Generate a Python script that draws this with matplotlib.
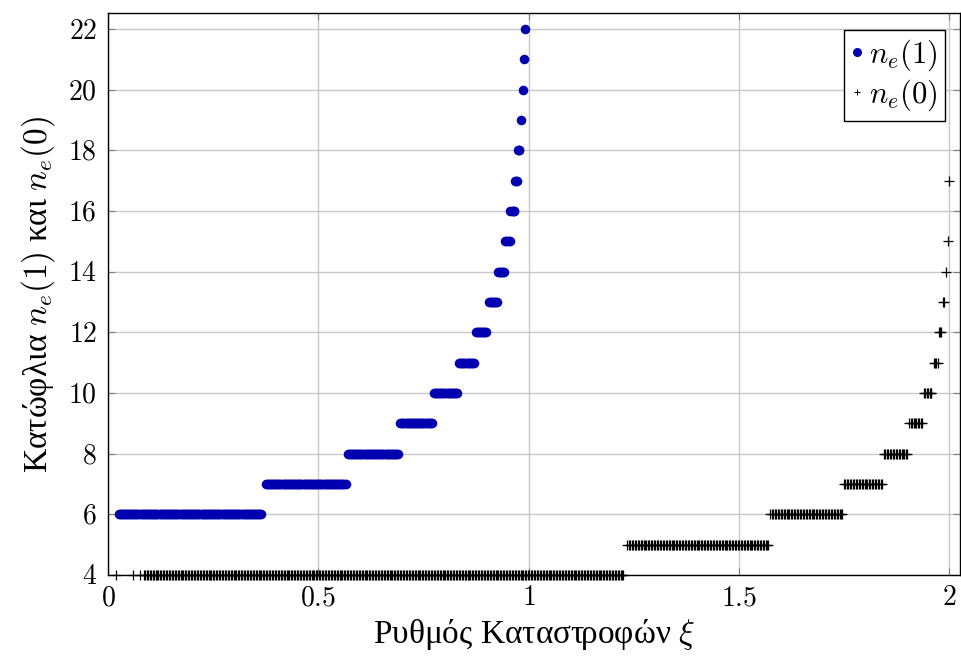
import numpy as np
import matplotlib
matplotlib.use("Agg")
import matplotlib.pyplot as plt
from matplotlib.ticker import FuncFormatter

plt.rcParams['mathtext.fontset'] = 'cm'
plt.rcParams['font.family'] = ['Liberation Serif', 'DejaVu Serif']

# sampling step of xi
step_1 = 0.0025
step_0 = 0.0035

# n_e(1): threshold level and the xi range where it holds
levels_1 = [6, 7, 8, 9, 10, 11, 12, 13, 14, 15, 16, 17, 18, 19, 20, 21, 22]
start_1 = [0.025, 0.375, 0.57, 0.695, 0.775, 0.835, 0.875, 0.905, 0.927, 0.945,
           0.957, 0.967, 0.975, 0.981, 0.986, 0.989, 0.992]
end_1 = [0.365, 0.565, 0.69, 0.77, 0.83, 0.87, 0.90, 0.925, 0.942, 0.955,
         0.965, 0.972, 0.978, 0.981, 0.986, 0.989, 0.992]

# n_e(0)
levels_0 = [4, 5, 6, 7, 8, 9, 10, 11, 12, 13, 14, 15, 17]
start_0 = [0.085, 1.235, 1.575, 1.75, 1.845, 1.905, 1.94, 1.963, 1.976, 1.985,
           1.993, 1.997, 2.0]
end_0 = [1.225, 1.57, 1.745, 1.84, 1.90, 1.935, 1.958, 1.973, 1.981, 1.988,
         1.993, 1.997, 2.0]
extra_x0 = [0.02, 0.06, 0.075]
extra_y0 = [4, 4, 4]


def expand(levels, starts, ends, step):
    xs, ys = [], []
    for lv, s, e in zip(levels, starts, ends):
        pts = np.arange(s, e + 1e-9, step)
        if len(pts) == 0 or abs(pts[-1] - e) > 1e-6:
            pts = np.append(pts, e)
        xs.extend(pts)
        ys.extend([lv] * len(pts))
    return np.array(xs), np.array(ys)


x1, y1 = expand(levels_1, start_1, end_1, step_1)
x0, y0 = expand(levels_0, start_0, end_0, step_0)
x0 = np.concatenate([extra_x0, x0])
y0 = np.concatenate([extra_y0, y0])

fig = plt.figure(figsize=(9.62, 6.56), dpi=100)
ax = fig.add_axes([108 / 962, 1 - 575 / 656, 852 / 962, 562 / 656])

ax.plot(x1, y1, 'o', color='#0000b0', markersize=6.9, markeredgewidth=0,
        clip_on=False, label=r'$n_e(1)$', zorder=3)
ax.plot(x0, y0, '+', color='black', markersize=6.5, markeredgewidth=0.9,
        clip_on=False, label=r'$n_e(0)$', zorder=3)

ax.set_xlim(0, 2.026)
ax.set_ylim(4, 22.53)
ax.set_xticks([0, 0.5, 1, 1.5, 2])
ax.set_yticks(np.arange(4, 23, 2))
ax.xaxis.set_major_formatter(FuncFormatter(lambda v, p: r'$%g$' % v))
ax.yaxis.set_major_formatter(FuncFormatter(lambda v, p: r'$%g$' % v))
ax.tick_params(direction='in', length=5, width=0.8, color='#808080',
               top=True, right=True, labelsize=20, pad=8)
ax.grid(True, color='#c8c8c8', linewidth=1)
ax.set_axisbelow(True)
for sp in ax.spines.values():
    sp.set_linewidth(1)

ax.set_xlabel(r'Ρυθμός Καταστροφών $\xi$', fontsize=24, labelpad=4)
ax.set_ylabel(r'Κατώφλια $n_e(1)$ και $n_e(0)$', fontsize=24, labelpad=8)

leg = ax.legend(loc='upper right', fontsize=22, frameon=True, fancybox=False,
                edgecolor='black', framealpha=1, handlelength=0.35,
                handletextpad=0.2, borderpad=0.25, labelspacing=0.15,
                borderaxespad=0, bbox_to_anchor=(0.982, 0.970))
leg.get_frame().set_linewidth(1)
hs = leg.legend_handles
hs[0].set_markersize(6.5)
hs[1].set_markersize(4.5)
hs[1].set_markeredgewidth(0.7)

fig.savefig('out.png', dpi=100)
